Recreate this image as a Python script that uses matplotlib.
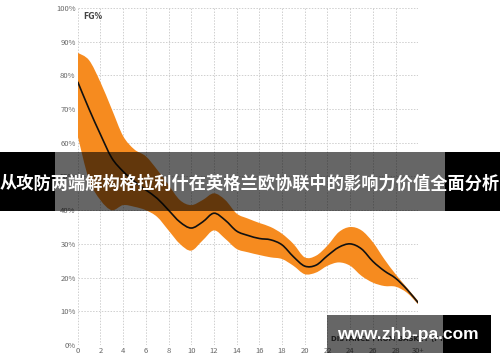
import numpy as np
import matplotlib
matplotlib.use('Agg')
import matplotlib.pyplot as plt
from matplotlib.patches import Rectangle, PathPatch
from matplotlib.path import Path

plt.rcParams['font.family'] = ['Noto Sans CJK SC', 'DejaVu Sans']

# 距离（英尺）与命中率数据
distance = list(range(0, 31))
fg_mean = [78.1, 70.0, 62.5, 55.5, 51.5, 48.5, 46.0, 43.5, 40.0, 36.5, 34.7,
           36.5, 39.1, 37.0, 33.8, 32.5, 31.6, 31.2, 29.7, 26.2, 23.4,
           23.7, 26.5, 29.0, 30.0, 28.5, 24.8, 22.0, 19.8, 16.5, 12.5]
fg_upper = [86.7, 84.5, 78.0, 70.0, 62.0, 58.0, 56.0, 52.0, 47.5, 43.0, 41.5,
            43.0, 45.0, 43.0, 39.0, 37.5, 36.2, 35.0, 33.0, 30.0, 26.0,
            26.5, 29.5, 33.5, 35.0, 34.0, 30.5, 25.5, 21.0, 17.0, 13.0]
fg_lower = [62.0, 49.0, 43.0, 40.0, 41.5, 41.0, 40.0, 38.0, 34.0, 30.0, 28.0,
            31.0, 34.0, 31.5, 28.5, 27.5, 26.7, 26.0, 25.5, 23.5, 21.0,
            21.5, 23.5, 24.5, 23.5, 20.5, 18.5, 17.5, 17.3, 15.5, 12.0]

x_ticks = list(range(0, 31, 2))
x_ticklabels = [str(t) for t in x_ticks[:-1]] + ['30+']
y_ticks = list(range(0, 101, 10))
y_ticklabels = [f'{t}%' for t in y_ticks]

title = '从攻防两端解构格拉利什在英格兰欧协联中的影响力价值全面分析'
watermark = 'www.zhb-pa.com'


def smooth_path(xs, ys):
    # Catmull-Rom 转三次贝塞尔，只用于平滑绘制
    pts = np.column_stack([xs, ys]).astype(float)
    verts = [pts[0]]
    codes = [Path.MOVETO]
    n = len(pts)
    for i in range(n - 1):
        p0 = pts[i - 1] if i > 0 else pts[i]
        p1 = pts[i]
        p2 = pts[i + 1]
        p3 = pts[i + 2] if i + 2 < n else pts[i + 1]
        c1 = p1 + (p2 - p0) / 6.0
        c2 = p2 - (p3 - p1) / 6.0
        verts += [c1, c2, p2]
        codes += [Path.CURVE4] * 3
    return verts, codes


fig = plt.figure(figsize=(5, 3.62), dpi=100)
ax = fig.add_axes([0.1554, 0.047, 0.6812, 0.931])

# 置信区间带
v_up, c_up = smooth_path(distance, fg_upper)
v_lo, c_lo = smooth_path(distance[::-1], fg_lower[::-1])
band_verts = v_up + [v_lo[0]] + v_lo[1:] + [v_up[0]]
band_codes = c_up + [Path.LINETO] + c_lo[1:] + [Path.CLOSEPOLY]
ax.add_patch(PathPatch(Path(band_verts, band_codes), facecolor='#F68B1F',
                       lw=0, zorder=2))

# 均值曲线
v_m, c_m = smooth_path(distance, fg_mean)
ax.add_patch(PathPatch(Path(v_m, c_m), facecolor='none', edgecolor='#111111',
                       lw=1.2, zorder=3))

ax.set_xlim(0, 30)
ax.set_ylim(0, 100)
ax.set_xticks(x_ticks)
ax.set_xticklabels(x_ticklabels)
ax.set_yticks(y_ticks)
ax.set_yticklabels(y_ticklabels)
ax.tick_params(length=0, labelsize=5.5, labelcolor='#666666', pad=1.5)
for s in ax.spines.values():
    s.set_visible(False)
ax.grid(True, color='#cfcfcf', ls=(0, (1.5, 1.5)), lw=0.7, zorder=1)

ax.text(0.5, 97.5, 'FG%', fontsize=5.5, fontweight='bold', color='#444444',
        ha='left', va='center', family='DejaVu Sans')
ax.text(22.3, 1.8, 'DISTANCE FROM BASKET (FT)', fontsize=5, fontweight='bold',
        color='#444444', ha='left', va='center', family='DejaVu Sans')

# 标题横幅
W, H = 500.0, 362.0


def px_rect(x0, y0, x1, y1, color, alpha):
    fig.add_artist(Rectangle((x0 / W, 1 - y1 / H), (x1 - x0) / W, (y1 - y0) / H,
                             transform=fig.transFigure, color=color, alpha=alpha,
                             lw=0, zorder=10))


px_rect(0, 152, 55, 211, 'black', 1.0)
px_rect(445, 152, 500, 211, 'black', 1.0)
px_rect(55, 152, 445, 211, 'black', 0.6)
fig.text(0.5, 1 - 184 / H, title, color='white', fontsize=12.4, fontweight='bold',
         ha='center', va='center', zorder=11)

# 水印
px_rect(327, 315, 443, 353, 'black', 0.6)
px_rect(443, 315, 491, 353, 'black', 1.0)
fig.text(337 / W, 1 - 335 / H, watermark, color='white', fontsize=12.5,
         fontweight='bold', ha='left', va='center', family='Liberation Sans',
         zorder=11)

fig.savefig('out.png', dpi=100)
